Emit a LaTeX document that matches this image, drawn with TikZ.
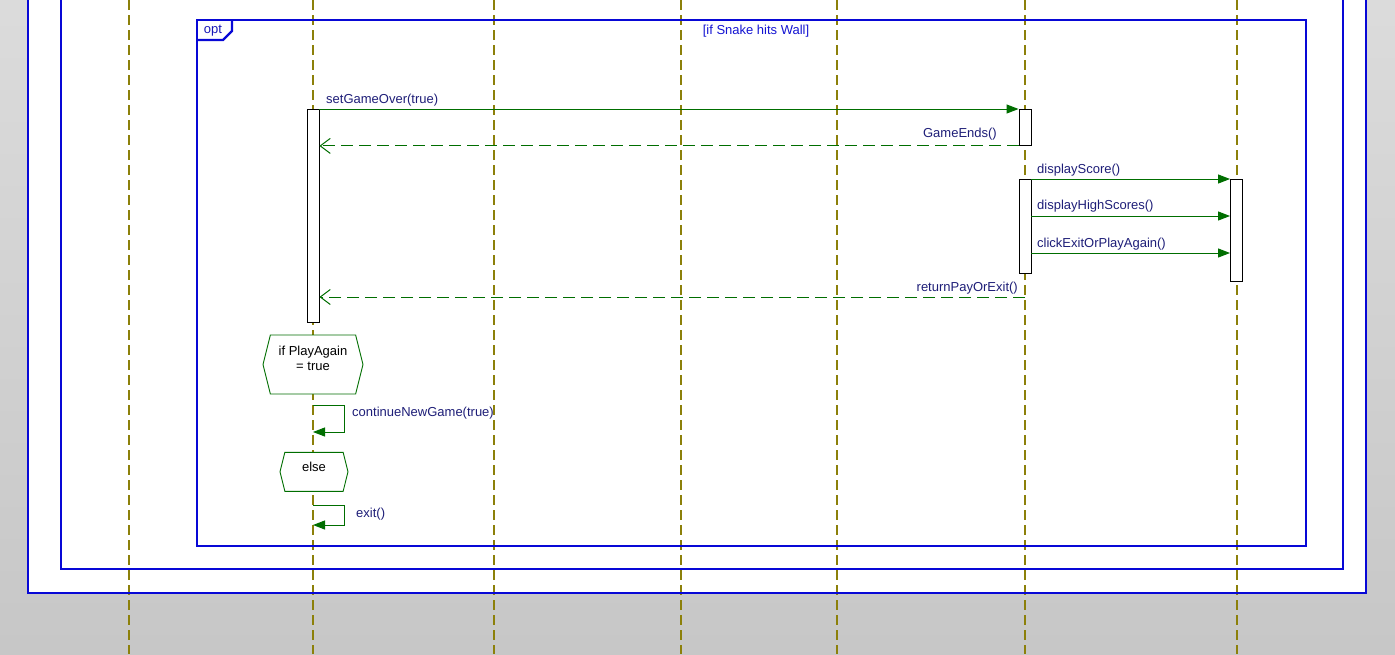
\documentclass[tikz,border=0pt]{standalone}
\usepackage{fontspec}
\setmainfont{Liberation Sans}
\usetikzlibrary{arrows.meta,shapes.symbols}
\definecolor{frameblue}{RGB}{8,8,214}
\definecolor{lifeolive}{RGB}{140,128,10}
\definecolor{msggreen}{RGB}{0,110,0}
\definecolor{msgtext}{RGB}{30,30,120}
\definecolor{guardtext}{RGB}{20,20,210}

\begin{document}
\begin{tikzpicture}[x=1pt, y=-1pt,
    frame/.style = {draw=frameblue, line width=2.4pt},
    life/.style = {draw=lifeolive, line width=1.15pt, dash pattern=on 10pt off 5pt},
    bar/.style = {draw=black, fill=white, line width=0.9pt, minimum width=12pt, inner sep=0pt, anchor=north},
    msg/.style = {draw=msggreen, line width=1pt, -{Triangle[length=12pt, width=9pt]}},
    reply/.style = {draw=msggreen, line width=1pt, dash pattern=on 12pt off 6pt, -{Straight Barb[length=10pt, width=15pt]}},
    lbl/.style = {font=\fontsize{13}{15}\selectfont, text=msgtext, inner sep=0pt},
    hexa/.style = {draw=msggreen, fill=white, line width=0.9pt, signal, signal to=west and east, signal pointer angle=152, inner sep=0pt},
    hextext/.style = {font=\fontsize{13}{15}\selectfont, align=center, inner sep=0pt}]
  \useasboundingbox (0,0) rectangle (1395,654);
  \fill[top color=black!14, bottom color=black!22] (0,0) rectangle (1395,654);
  \fill[white] (28,-10) rectangle (1366,593);

  % lifelines
  \foreach \n/\x in {one/129, two/313, three/494, four/681, five/837, six/1025, seven/1237}
    \draw[life] (\x,0) coordinate (\n) -- (\x,654);

  % frames
  \draw[frame] (28,-10) -- (28,593) -- (1366,593) -- (1366,-10);
  \draw[frame] (61,-10) -- (61,569) -- (1343,569) -- (1343,-10);
  \draw[frame] (197,20) rectangle (1306,546);
  \draw[frame] (197,40) -- (223,40) -- (232,31) -- (232,20);
  \node[lbl, text=guardtext!70!msgtext] (opt) at (213,31) {opt};
  \node[lbl, text=guardtext] (cond) at (756,31) {[if Snake hits Wall]};

  % activations
  \node[bar, minimum height=213pt] (game) at (313,109) {};
  \node[bar, minimum height=36pt] (snake) at (1025,109) {};
  \node[bar, minimum height=94pt] (snake2) at (1025,179) {};
  \node[bar, minimum height=102pt] (score) at (1236.5,179) {};

  % messages
  \draw[msg] (game.north east) -- (snake.north west);
  \node[lbl, anchor=west] (m1) at (326,100) {setGameOver(true)};
  \draw[reply] (snake.south west) -- (game.east |- snake.south);
  \node[lbl, anchor=east] (m2) at (997,134) {GameEnds()};
  \draw[msg] (snake2.north east) -- (score.north west);
  \node[lbl, anchor=west] (m3) at (1037,170) {displayScore()};
  \draw[msg] (snake2.east |- 0,216) -- (score.west |- 0,216);
  \node[lbl, anchor=west] (m4) at (1037,206) {displayHighScores()};
  \draw[msg] (snake2.east |- 0,253) -- (score.west |- 0,253);
  \node[lbl, anchor=west] (m5) at (1037,244) {clickExitOrPlayAgain()};
  \draw[reply] (six |- 0,297) -- (game.east |- 0,297);
  \node[lbl, anchor=east] (m6) at (1018,288) {returnPayOrExit()};

  % alternatives
  \node[hexa, minimum width=100pt, minimum height=59pt] (play) at (313,364.5) {};
  \node[hextext] (playtxt) at ([yshift=6pt]play.center) {if PlayAgain\\= true};
  \coordinate (self1) at (313,405);
  \draw[msg] (self1) -- ++(31,0) -- ++(0,27) -- (two |- 0,432);
  \node[lbl, anchor=west] (m7) at (352,413) {continueNewGame(true)};
  \node[hexa, minimum width=68pt, minimum height=39pt] (other) at (314,471.8) {};
  \node[hextext] (othertxt) at ([yshift=5pt]other.center) {else};
  \coordinate (self2) at (313,505);
  \draw[msg] (self2) -- ++(31,0) -- ++(0,20) -- (two |- 0,525);
  \node[lbl, anchor=west] (m8) at (356,514) {exit()};
\end{tikzpicture}
\end{document}
